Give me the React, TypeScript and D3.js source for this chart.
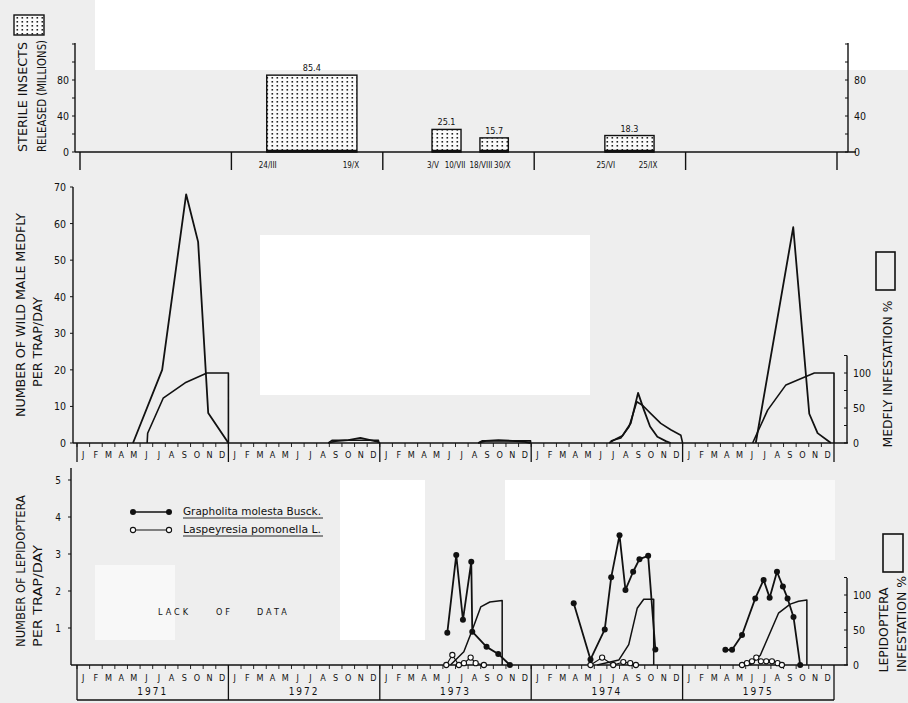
import React from "react";
import * as d3 from "d3";

// ---------- DATA ----------
const monthLetters = ["J", "F", "M", "A", "M", "J", "J", "A", "S", "O", "N", "D"];
const years = ["1971", "1972", "1973", "1974", "1975"];

// Sterile insects released (millions); times in months since Jan 1971
const releaseStart = [14.8, 27.9, 31.7, 41.6];
const releaseEnd = [21.95, 30.2, 33.95, 45.5];
const releaseValue = [85.4, 25.1, 15.7, 18.3];
const releaseStartLabel = ["24/III", "3/V", "18/VIII", "25/VI"];
const releaseEndLabel = ["19/X", "10/VII", "30/X", "25/IX"];
const topTicks = [0, 40, 80];

// Wild male medfly per trap/day: [month, value]
const medfly1971 = [[4.44, 0], [6.75, 20], [8.65, 68], [9.6, 55], [10.4, 8.2], [12.0, 0]];
const medfly1972 = [[19.92, 0], [20.5, 0.5], [21.5, 0.8], [22.46, 1.4], [23.25, 0.8], [23.89, 0.3], [24.0, 0]];
const medfly1973 = [[31.8, 0], [32.4, 0.6], [33.4, 0.8], [34.5, 0.6], [35.5, 0.3], [35.95, 0]];
const medfly1974 = [[42.17, 0], [42.56, 0.8], [43.23, 2], [43.89, 5.4], [44.47, 13.7], [44.94, 9], [45.42, 4.5], [46.0, 1.7], [46.67, 0.5], [47.06, 0]];
const medfly1975 = [[53.8, 0], [56.77, 59], [58.04, 8], [58.7, 2.7], [59.76, 0]];

// Medfly infestation %
const medInf1971 = [[5.56, 0], [5.6, 14], [6.83, 64], [8.57, 86], [10.3, 100], [12.0, 100], [12.0, 0]];
const medInf1972 = [[19.92, 0], [20.24, 4], [23.89, 4], [23.89, 0]];
const medInf1973 = [[31.8, 0], [32.1, 3], [35.95, 3], [35.95, 0]];
const medInf1974 = [[42.3, 3], [43.1, 7], [43.75, 23], [44.37, 59], [44.82, 54], [45.48, 42], [46.27, 28], [47.06, 19], [47.86, 11], [48.0, 0]];
const medInf1975 = [[53.55, 0], [54.74, 47], [56.19, 83], [57.12, 90], [58.44, 100], [60.0, 100], [60.0, 0]];
const medflyTicks = [0, 10, 20, 30, 40, 50, 60, 70];
const infTicks = [0, 50, 100];

// Lepidoptera per trap/day
const graph1973 = [[29.35, 0.87], [30.06, 2.97], [30.59, 1.22], [31.25, 2.79], [31.33, 0.9], [32.46, 0.49], [33.39, 0.3], [34.31, 0]];
const graph1974 = [[39.37, 1.67], [40.7, 0.15], [41.83, 0.96], [42.34, 2.37], [43.0, 3.51], [43.47, 2.03], [44.08, 2.52], [44.58, 2.86], [45.27, 2.95], [45.84, 0.42]];
const graph1975 = [[51.39, 0.41], [51.92, 0.41], [52.71, 0.81], [53.76, 1.8], [54.42, 2.3], [54.9, 1.82], [55.48, 2.52], [55.95, 2.12], [56.32, 1.8], [56.79, 1.3], [57.32, 0]];
const lasp1973 = [[29.27, 0], [29.75, 0.27], [30.27, 0], [30.67, 0.05], [31.2, 0.2], [31.6, 0.05], [32.25, 0]];
const lasp1974 = [[40.7, 0], [41.62, 0.2], [42.5, 0], [43.3, 0.08], [43.85, 0.05], [44.3, 0]];
const lasp1975 = [[52.71, 0], [53.1, 0.05], [53.5, 0.1], [53.84, 0.2], [54.21, 0.1], [54.63, 0.1], [55.08, 0.1], [55.53, 0.05], [55.87, 0]];
const lepInf1973 = [[29.6, 0], [30.66, 19], [31.33, 50], [32.0, 83], [32.72, 90], [33.7, 92], [33.7, 0]];
const lepInf1974 = [[41.23, 0], [42.94, 7], [43.73, 29], [44.4, 81], [44.92, 94], [45.71, 94], [45.71, 0]];
const lepInf1975 = [[53.36, 0], [54.16, 14], [55.6, 74], [56.53, 87], [57.19, 91], [57.85, 93], [57.85, 0]];
const lepTicks = [1, 2, 3, 4, 5];

// ---------- COMPONENT ----------
const FONT = "'DejaVu Sans', 'Liberation Sans', sans-serif";
const INK = "#111";

export default function App() {
  const W = 908, H = 703;
  const xTop = d3.scaleLinear().domain([0, 60]).range([80, 837]);
  const x = d3.scaleLinear().domain([0, 60]).range([77, 834]);

  const yTop = d3.scaleLinear().domain([0, 120]).range([152, 44]);
  const yMed = d3.scaleLinear().domain([0, 70]).range([443, 187]);
  const yMedInf = d3.scaleLinear().domain([0, 100]).range([443, 373]);
  const yLep = d3.scaleLinear().domain([0, 5]).range([665, 480]);
  const yLepInf = d3.scaleLinear().domain([0, 100]).range([665, 595]);

  const lineMed = d3.line<number[]>().x(d => x(d[0])).y(d => yMed(d[1]));
  const lineMedInf = d3.line<number[]>().x(d => x(d[0])).y(d => yMedInf(d[1]));
  const lineLep = d3.line<number[]>().x(d => x(d[0])).y(d => yLep(d[1]));
  const lineLepInf = d3.line<number[]>().x(d => x(d[0])).y(d => yLepInf(d[1]));

  const monthIdx = d3.range(60);
  const yearIdx = d3.range(6);

  const text = (s: string, px: number, py: number, size: number, extra: any = {}) => (
    <text x={px} y={py} fontSize={size} fontFamily={FONT} fontStretch="condensed" fill={INK} {...extra}>{s}</text>
  );
  const vtext = (s: string, cx: number, cy: number, size: number, len: number, extra: any = {}) => (
    <text transform={`translate(${cx},${cy}) rotate(-90)`} textAnchor="middle" dominantBaseline="central"
      fontSize={size} fontFamily={FONT} fontStretch="condensed" fill={INK}
      textLength={len} lengthAdjust="spacingAndGlyphs" {...extra}>{s}</text>
  );

  const graphSeries = [graph1973, graph1974, graph1975];
  const laspSeries = [lasp1973, lasp1974, lasp1975];

  return (
    <div style={{ position: "absolute", left: 0, top: 0 }}>
      <svg width={W} height={H} style={{ display: "block" }}>
        <defs>
          <pattern id="dots" width="5" height="4" patternUnits="userSpaceOnUse">
            <rect width="5" height="4" fill="#fbfbfb" />
            <rect x="1.5" y="1" width="1.6" height="1.6" fill="#222" />
          </pattern>
        </defs>
        {/* paper tone */}
        <rect x={0} y={0} width={W} height={H} fill="#eeeeee" />
        <rect x={95} y={0} width={813} height={70} fill="#ffffff" />
        <rect x={260} y={235} width={330} height={160} fill="#ffffff" />
        <rect x={340} y={480} width={85} height={160} fill="#ffffff" />
        <rect x={505} y={480} width={85} height={80} fill="#ffffff" />
        <rect x={590} y={480} width={245} height={80} fill="#f8f8f8" />
        <rect x={95} y={565} width={80} height={75} fill="#f8f8f8" />

        {/* ===== TOP PANEL ===== */}
        <line x1={75} x2={75} y1={yTop(121)} y2={yTop(0)} stroke={INK} strokeWidth={1.4} />
        <line x1={848} x2={848} y1={yTop(121)} y2={yTop(0)} stroke={INK} strokeWidth={1.4} />
        <line x1={75} x2={856} y1={yTop(0)} y2={yTop(0)} stroke={INK} strokeWidth={1.4} />
        {d3.range(0, 121, 20).map(t => (
          <g key={"tt" + t}>
            <line x1={72} x2={75} y1={yTop(t)} y2={yTop(t)} stroke={INK} />
            <line x1={845} x2={848} y1={yTop(t)} y2={yTop(t)} stroke={INK} />
          </g>
        ))}
        {topTicks.map(t => (
          <g key={"tl" + t}>
            {text(String(t), 69, yTop(t) + 4, 10.5, { textAnchor: "end" })}
            {text(String(t), 854, yTop(t) + 4, 10.5)}
          </g>
        ))}
        {yearIdx.map(i => (
          <line key={"ty" + i} x1={xTop(i * 12)} x2={xTop(i * 12)} y1={yTop(0)} y2={170} stroke={INK} strokeWidth={1.4} />
        ))}
        {releaseValue.map((v, i) => {
          const x0 = xTop(releaseStart[i]), x1 = xTop(releaseEnd[i]);
          return (
            <g key={"bar" + i}>
              <rect x={x0} y={yTop(v)} width={x1 - x0} height={yTop(0) - yTop(v)} fill="url(#dots)" stroke={INK} strokeWidth={1.4} />
              <line x1={x0} x2={x1} y1={yTop(0) - 1} y2={yTop(0) - 1} stroke={INK} strokeWidth={2.5} />
              {text(v.toFixed(1), (x0 + x1) / 2, yTop(v) - 4, 9, { textAnchor: "middle" })}
              {text(releaseStartLabel[i], x0 + 1, 168, 8, { textAnchor: "middle" })}
              {text(releaseEndLabel[i], x1 - 6, 168, 8, { textAnchor: "middle" })}
            </g>
          );
        })}
        {/* top left title */}
        <rect x={14} y={15} width={30} height={20} fill="url(#dots)" stroke={INK} strokeWidth={1.4} />
        {vtext("STERILE INSECTS", 22, 97, 13, 110)}
        {vtext("RELEASED (MILLIONS)", 41, 96, 13, 112)}

        {/* ===== MIDDLE PANEL ===== */}
        <line x1={73} x2={73} y1={yMed(70)} y2={yMed(0)} stroke={INK} strokeWidth={1.4} />
        {medflyTicks.map(t => (
          <g key={"mt" + t}>
            <line x1={70} x2={73} y1={yMed(t)} y2={yMed(t)} stroke={INK} />
            {text(String(t), 66, yMed(t) + 4, 10.5, { textAnchor: "end" })}
          </g>
        ))}
        <line x1={73} x2={848} y1={yMed(0)} y2={yMed(0)} stroke={INK} strokeWidth={1.4} />
        {monthIdx.map(m => (
          <g key={"mm" + m}>
            <line x1={x(m)} x2={x(m)} y1={yMed(0)} y2={yMed(0) + 4} stroke={INK} strokeWidth={0.9} />
            {text(monthLetters[m % 12], x(m + 0.5), 458, 9, { textAnchor: "middle" })}
          </g>
        ))}
        {yearIdx.map(i => (
          <line key={"my" + i} x1={x(i * 12)} x2={x(i * 12)} y1={yMed(0)} y2={462} stroke={INK} strokeWidth={1.3} />
        ))}
        {/* right infestation axis */}
        <line x1={847} x2={847} y1={yMedInf(125)} y2={yMedInf(0)} stroke={INK} strokeWidth={1.4} />
        {d3.range(0, 126, 25).map(t => (
          <line key={"mi" + t} x1={844} x2={847} y1={yMedInf(t)} y2={yMedInf(t)} stroke={INK} />
        ))}
        {infTicks.map(t => (
          <g key={"mil" + t}>{text(String(t), 853, yMedInf(t) + 4, 10.5)}</g>
        ))}
        {[medfly1971, medfly1972, medfly1973, medfly1974, medfly1975].map((s, i) => (
          <path key={"mf" + i} d={lineMed(s) || ""} fill="none" stroke={INK} strokeWidth={1.8} strokeLinejoin="round" />
        ))}
        {[medInf1971, medInf1972, medInf1973, medInf1974, medInf1975].map((s, i) => (
          <path key={"mif" + i} d={lineMedInf(s) || ""} fill="none" stroke={INK} strokeWidth={1.6} strokeLinejoin="round" />
        ))}
        {vtext("NUMBER OF WILD MALE MEDFLY", 20, 315, 13, 204)}
        {vtext("PER TRAP/DAY", 37, 342, 13, 90)}
        <rect x={876} y={252} width={19} height={38} fill="none" stroke={INK} strokeWidth={1.6} />
        {vtext("MEDFLY INFESTATION %", 887, 374, 13, 147)}

        {/* ===== BOTTOM PANEL ===== */}
        <line x1={71} x2={71} y1={468} y2={yLep(0)} stroke={INK} strokeWidth={1.4} />
        {lepTicks.map(t => (
          <g key={"lt" + t}>
            <line x1={68} x2={71} y1={yLep(t)} y2={yLep(t)} stroke={INK} />
            {text(String(t), 61, yLep(t) + 4, 10, { textAnchor: "end" })}
          </g>
        ))}
        <line x1={71} x2={848} y1={yLep(0)} y2={yLep(0)} stroke={INK} strokeWidth={1.4} />
        {monthIdx.map(m => (
          <g key={"lm" + m}>
            <line x1={x(m)} x2={x(m)} y1={yLep(0)} y2={yLep(0) + 4} stroke={INK} strokeWidth={0.9} />
            {text(monthLetters[m % 12], x(m + 0.5), 681, 9, { textAnchor: "middle" })}
          </g>
        ))}
        {yearIdx.map(i => (
          <line key={"ly" + i} x1={x(i * 12)} x2={x(i * 12)} y1={yLep(0)} y2={700} stroke={INK} strokeWidth={1.3} />
        ))}
        <line x1={x(0)} x2={x(60)} y1={700} y2={700} stroke={INK} strokeWidth={1.3} />
        {years.map((yr, i) => (
          <g key={"yr" + i}>{text(yr, x(i * 12 + 6), 695, 10, { textAnchor: "middle", letterSpacing: 2 })}</g>
        ))}
        {/* right axis */}
        <line x1={847} x2={847} y1={578} y2={yLepInf(0)} stroke={INK} strokeWidth={1.4} />
        {d3.range(0, 126, 25).map(t => (
          <line key={"li" + t} x1={844} x2={847} y1={yLepInf(t)} y2={yLepInf(t)} stroke={INK} />
        ))}
        {infTicks.map(t => (
          <g key={"lil" + t}>{text(String(t), 853, yLepInf(t) + 4, 10.5)}</g>
        ))}
        {[lepInf1973, lepInf1974, lepInf1975].map((s, i) => (
          <path key={"lif" + i} d={lineLepInf(s) || ""} fill="none" stroke={INK} strokeWidth={1.5} strokeLinejoin="round" />
        ))}
        {laspSeries.map((s, i) => (
          <g key={"ls" + i}>
            <path d={lineLep(s) || ""} fill="none" stroke={INK} strokeWidth={1.2} />
            {s.map((d, j) => (
              <circle key={j} cx={x(d[0])} cy={yLep(d[1])} r={2.6} fill="#fff" stroke={INK} strokeWidth={1.1} />
            ))}
          </g>
        ))}
        {graphSeries.map((s, i) => (
          <g key={"gs" + i}>
            <path d={lineLep(s) || ""} fill="none" stroke={INK} strokeWidth={1.8} strokeLinejoin="round" />
            {s.map((d, j) => (
              <circle key={j} cx={x(d[0])} cy={yLep(d[1])} r={3} fill={INK} />
            ))}
          </g>
        ))}
        {/* legend */}
        <line x1={133} x2={169} y1={512} y2={512} stroke={INK} strokeWidth={1.6} />
        <circle cx={133} cy={512} r={3} fill={INK} />
        <circle cx={169} cy={512} r={3} fill={INK} />
        {text("Grapholita  molesta  Busck.", 183, 515, 10, { textLength: 138, lengthAdjust: "spacingAndGlyphs" })}
        <line x1={183} x2={323} y1={518} y2={518} stroke={INK} strokeWidth={0.9} />
        <line x1={133} x2={169} y1={530} y2={530} stroke={INK} strokeWidth={1.2} />
        <circle cx={133} cy={530} r={2.6} fill="#fff" stroke={INK} strokeWidth={1.1} />
        <circle cx={169} cy={530} r={2.6} fill="#fff" stroke={INK} strokeWidth={1.1} />
        {text("Laspeyresia  pomonella  L.", 183, 533, 10, { textLength: 138, lengthAdjust: "spacingAndGlyphs" })}
        <line x1={183} x2={323} y1={536} y2={536} stroke={INK} strokeWidth={0.9} />
        {text("LACK", 158, 615, 9, { letterSpacing: 3 })}
        {text("OF", 216, 615, 9, { letterSpacing: 3 })}
        {text("DATA", 257, 615, 9, { letterSpacing: 3 })}
        {vtext("NUMBER OF LEPIDOPTERA", 20, 571, 13, 152)}
        {vtext("PER TRAP/DAY", 37, 596, 13, 102)}
        <rect x={883} y={534} width={20} height={38} fill="none" stroke={INK} strokeWidth={1.6} />
        {vtext("LEPIDOPTERA", 883, 630, 13, 85)}
        {vtext("INFESTATION %", 901, 624, 13, 96)}
      </svg>
    </div>
  );
}
